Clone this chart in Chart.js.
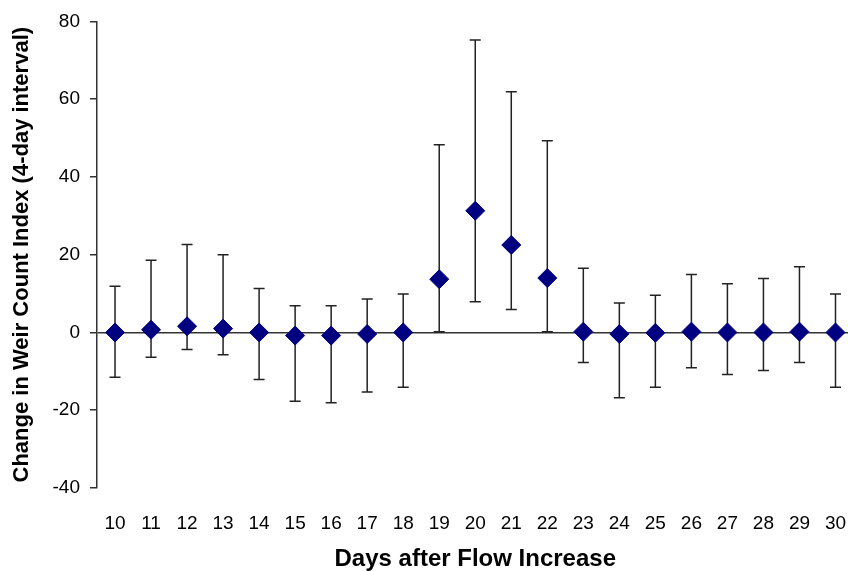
<!DOCTYPE html>
<html>
<head>
<meta charset="utf-8">
<script src="https://cdn.jsdelivr.net/npm/chart.js@4/dist/chart.umd.min.js"></script>
<style>
  html, body { margin: 0; padding: 0; background: #fff; overflow: hidden; }
  #wrap { width: 864px; height: 571px; }
</style>
</head>
<body>
<div id="wrap"><canvas id="myChart" width="864" height="571"></canvas></div>
<script>
const days = ["10","11","12","13","14","15","16","17","18","19","20","21","22","23","24","25","26","27","28","29","30"];
const change = [0, 0.7, 1.6, 1.0, 0, -0.8, -0.8, -0.4, 0, 13.7, 31.3, 22.5, 14.0, 0.2, -0.4, -0.1, 0.2, 0, 0, 0.2, 0];
const upper = [11.9, 18.6, 22.6, 20.0, 11.3, 6.9, 6.9, 8.6, 9.9, 48.3, 75.2, 61.9, 49.3, 16.5, 7.6, 9.6, 14.9, 12.5, 13.9, 16.9, 9.9];
const lower = [-11.5, -6.4, -4.4, -5.7, -12.1, -17.7, -18.1, -15.3, -14.1, 0.2, 7.9, 5.9, 0.2, -7.7, -16.8, -14.1, -9.1, -10.8, -9.8, -7.7, -14.1];

// error bars drawn under the markers
const errorBars = {
  id: "errorBars",
  beforeDatasetsDraw(chart) {
    const ctx = chart.ctx;
    const xs = chart.scales.x;
    const ys = chart.scales.y;
    ctx.save();
    ctx.strokeStyle = "#222";
    ctx.lineWidth = 1.5;
    days.forEach((d, i) => {
      const x = xs.getPixelForValue(i);
      const yt = ys.getPixelForValue(upper[i]);
      const yb = ys.getPixelForValue(lower[i]);
      ctx.beginPath();
      ctx.moveTo(x, yt); ctx.lineTo(x, yb);
      ctx.moveTo(x - 5.5, yt); ctx.lineTo(x + 5.5, yt);
      ctx.moveTo(x - 5.5, yb); ctx.lineTo(x + 5.5, yb);
      ctx.stroke();
    });
    ctx.restore();
  }
};

const ctx = document.getElementById("myChart");
const chart = new Chart(ctx, {
  type: "line",
  data: {
    labels: days,
    datasets: [{
      data: change,
      showLine: false,
      pointStyle: "rectRot",
      pointRadius: 9.5,
      pointHoverRadius: 9.5,
      backgroundColor: "#000080",
      borderColor: "#000080",
      borderWidth: 1
    }]
  },
  plugins: [errorBars],
  options: {
    responsive: false,
    animation: false,
    events: [],
    layout: { padding: { top: 19, right: 4, left: 0, bottom: 0 } },
    plugins: { legend: { display: false }, tooltip: { enabled: false } },
    scales: {
      x: {
        offset: true,
        grid: { display: false, drawTicks: false },
        border: { display: false },
        ticks: { color: "#000", padding: 24, maxRotation: 0, font: { family: "Liberation Sans", size: 19 } },
        title: {
          display: true,
          text: "Days after Flow Increase",
          color: "#000",
          font: { family: "Liberation Sans", size: 24, weight: "bold" },
          padding: { top: 6, bottom: -3 }
        },
        afterFit: (s) => { s.height = 83; s.paddingLeft = 0; s.paddingRight = 0; }
      },
      y: {
        min: -40,
        max: 80,
        ticks: { stepSize: 20, color: "#000", padding: 10, font: { family: "Liberation Sans", size: 19 } },
        grid: {
          color: (c) => (c.tick && c.tick.value === 0 ? "#333" : "rgba(0,0,0,0)"),
          tickColor: "#333",
          tickLength: 7,
          lineWidth: 1.5
        },
        border: { display: true, color: "#333", width: 1.5 },
        title: {
          display: true,
          text: "Change in Weir Count Index (4-day interval)",
          color: "#000",
          font: { family: "Liberation Sans", size: 22, weight: "bold" },
          padding: { top: 9, bottom: 4 }
        },
        afterFit: (s) => { s.width = 97; }
      }
    }
  }
});
</script>
</body>
</html>
